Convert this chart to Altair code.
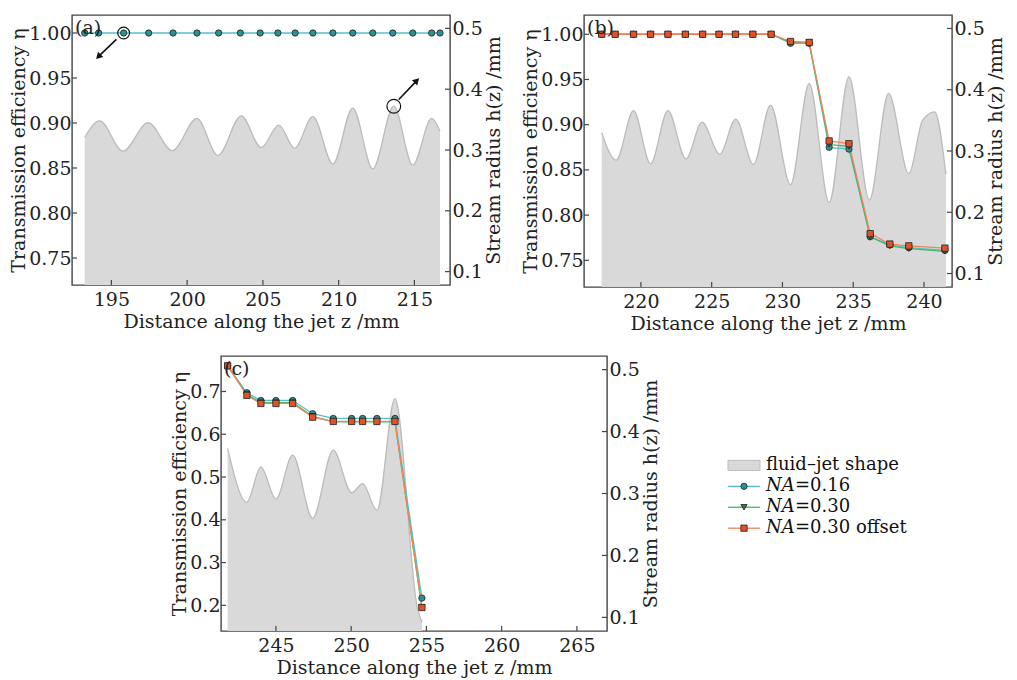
import altair as alt
import pandas as pd

FONT = "DejaVu Serif"

SERIES = ["NA=0.16", "NA=0.30", "NA=0.30 offset"]
LINE_COLORS = ["#56c1c9", "#45b865", "#f2845c"]
MARKER_FILLS = ["#2f8f93", "#2f7f3f", "#e0532a"]
SHAPES = ["circle", "triangle-down", "square"]

# ---------------- panel (a) ----------------
A_Z = [193.24, 194.16, 195.81, 197.46, 199.07, 200.65, 202.08, 203.51, 204.82, 205.99,
       207.13, 208.30, 209.62, 210.93, 212.25, 213.57, 214.89, 216.14, 216.69]
A_ETA_016 = [1.0, 1.0, 1.0, 1.0, 1.0, 1.0, 1.0, 1.0, 1.0, 1.0,
             1.0, 1.0, 1.0, 1.0, 1.0, 1.0, 1.0, 1.0, 1.0]
A_JET_Z = [193.24, 194.23, 195.77, 197.42, 199.02, 200.65, 202.03, 203.57, 204.89, 206.05,
           207.09, 208.30, 209.62, 210.93, 212.25, 213.64, 214.89, 216.14, 216.69]
A_JET_H = [0.321, 0.348, 0.298, 0.345, 0.299, 0.352, 0.291, 0.356, 0.304, 0.341,
           0.303, 0.355, 0.277, 0.369, 0.269, 0.372, 0.275, 0.352, 0.331]

# ---------------- panel (b) ----------------
B_Z = [217.23, 218.18, 219.48, 220.68, 221.91, 223.14, 224.36, 225.52, 226.68, 227.91,
       229.20, 230.57, 231.89, 233.30, 234.70, 236.20, 237.59, 238.93, 241.48]
B_ETA_016 = [1.0, 1.0, 1.0, 1.0, 1.0, 1.0, 1.0, 1.0, 1.0, 1.0,
             1.0, 0.990, 0.990, 0.875, 0.873, 0.776, 0.767, 0.764, 0.761]
B_ETA_030 = [1.0, 1.0, 1.0, 1.0, 1.0, 1.0, 1.0, 1.0, 1.0, 1.0,
             1.0, 0.991, 0.991, 0.878, 0.876, 0.776, 0.766, 0.763, 0.760]
B_ETA_030_OFF = [1.0, 1.0, 1.0, 1.0, 1.0, 1.0, 1.0, 1.0, 1.0, 1.0,
                 1.0, 0.992, 0.991, 0.882, 0.879, 0.7795, 0.768, 0.766, 0.7635]
B_JET_Z = [217.23, 218.25, 219.48, 220.68, 221.91, 223.18, 224.32, 225.57, 226.70, 227.95,
           229.16, 230.57, 231.89, 233.30, 234.70, 236.14, 237.50, 238.93, 239.90, 240.75, 241.55]
B_JET_H = [0.330, 0.285, 0.366, 0.279, 0.366, 0.287, 0.347, 0.295, 0.352, 0.278,
           0.375, 0.245, 0.410, 0.216, 0.421, 0.220, 0.394, 0.263, 0.350, 0.364, 0.262]

# ---------------- panel (c) ----------------
C_Z = [241.79, 243.07, 244.00, 245.00, 246.11, 247.44, 248.81, 250.03, 250.76, 251.71, 252.91, 254.70]
C_ETA_016 = [0.760, 0.697, 0.679, 0.679, 0.679, 0.648, 0.637, 0.637, 0.637, 0.637, 0.637, 0.217]
C_ETA_030 = [0.760, 0.693, 0.674, 0.674, 0.674, 0.642, 0.629, 0.629, 0.629, 0.629, 0.629, 0.195]
C_ETA_030_OFF = [0.760, 0.691, 0.672, 0.672, 0.672, 0.640, 0.630, 0.630, 0.630, 0.630, 0.630, 0.195]
C_JET_Z = [241.79, 243.07, 244.00, 245.00, 246.11, 247.44, 248.81, 250.03, 250.76, 251.71,
           252.91, 254.40, 254.70]
C_JET_H = [0.373, 0.286, 0.343, 0.291, 0.362, 0.260, 0.370, 0.301, 0.316, 0.273,
           0.453, 0.115, 0.092]

# axis ticks
A_XTICKS = [195, 200, 205, 210, 215]
B_XTICKS = [220, 225, 230, 235, 240]
C_XTICKS = [245, 250, 255, 260, 265]
AB_ETA_TICKS = [0.75, 0.80, 0.85, 0.90, 0.95, 1.00]
C_ETA_TICKS = [0.2, 0.3, 0.4, 0.5, 0.6, 0.7]
H_TICKS = [0.1, 0.2, 0.3, 0.4, 0.5]
H_DOMAIN = [0.078, 0.522]

# annotations in (a)
ANN_CIRC_LEFT = {"z": [195.81], "eta": [1.0]}
ANN_CIRC_RIGHT = {"z": [213.64], "h": [0.372]}
ARROWS = {"z": [195.33, 213.97], "eta": [0.993, 0.9261],
          "z2": [194.19, 215.11], "eta2": [0.9746, 0.9463], "ang": [225, 45]}

# legend
LEG_ROW = [0, 1, 2, 3]
LEG_SERIES = ["fluid", "NA=0.16", "NA=0.30", "NA=0.30 offset"]
LEG_ITALIC = ["", "NA", "NA", "NA"]
LEG_REST = ["fluid–jet shape", "=0.16", "=0.30", "=0.30 offset"]

FRAME = "#444444"
JET_FILL = "#d9d9d9"
JET_EDGE = "#bcbcbc"
FS = 19


def long_df(z, cols):
    rows = []
    for name, vals in cols:
        for zi, v in zip(z, vals):
            rows.append({"z": zi, "eta": v, "series": name})
    return pd.DataFrame(rows)


def panel(label, W, H, x_dom, x_ticks, eta_dom, eta_ticks, eta_fmt, jet_z, jet_h, pts,
          left_extra=None, right_extra=None):
    xs = alt.Scale(domain=x_dom, nice=False, zero=False)
    ys_l = alt.Scale(domain=eta_dom, nice=False, zero=False)
    ys_r = alt.Scale(domain=H_DOMAIN, nice=False, zero=False)
    x_axis = alt.Axis(values=x_ticks, format="d", title="Distance along the jet z /mm",
                      labelPadding=5, titlePadding=3)
    r_axis = alt.Axis(orient="right", values=H_TICKS, format=".1f",
                      title="Stream radius h(z) /mm", labelPadding=2, titlePadding=2,
                      titleAngle=270, titleBaseline="top")
    l_axis = alt.Axis(orient="left", values=eta_ticks, format=eta_fmt,
                      title="Transmission efficiency η", labelPadding=1, titlePadding=0)

    def X(f="z"):
        return alt.X(f"{f}:Q", scale=xs, axis=x_axis)

    def YR(f="h"):
        return alt.Y(f"{f}:Q", scale=ys_r, axis=r_axis)

    def YL(f="eta"):
        return alt.Y(f"{f}:Q", scale=ys_l, axis=l_axis)

    jet = pd.DataFrame({"z": jet_z, "h": jet_h})
    area = alt.Chart(jet).mark_area(
        color=JET_FILL, opacity=1, interpolate="monotone", clip=True,
        line={"color": JET_EDGE, "strokeWidth": 1.3}
    ).encode(x=X(), y=YR(), y2=alt.Y2(datum=H_DOMAIN[0]))
    rticks = alt.Chart(pd.DataFrame({"h": H_TICKS})).mark_tick(
        orient="horizontal", size=5, thickness=1.2, color=FRAME, opacity=1
    ).encode(y=YR(), x=alt.value(W - 2.5))
    right_layers = [area, rticks] + (right_extra(YR, X) if right_extra else [])
    right = alt.layer(*right_layers)

    lines = alt.Chart(pts).mark_line(strokeWidth=1.3).encode(
        x=X(), y=YL(),
        color=alt.Color("series:N", scale=alt.Scale(domain=SERIES, range=LINE_COLORS), legend=None),
    )
    points = alt.Chart(pts).mark_point(
        filled=True, size=40, opacity=1, stroke="#222222", strokeWidth=0.8
    ).encode(
        x=X(), y=YL(),
        fill=alt.Fill("series:N", scale=alt.Scale(domain=SERIES, range=MARKER_FILLS), legend=None),
        shape=alt.Shape("series:N", scale=alt.Scale(domain=SERIES, range=SHAPES), legend=None),
    )
    lticks = alt.Chart(pd.DataFrame({"eta": eta_ticks})).mark_tick(
        orient="horizontal", size=5, thickness=1.2, color=FRAME, opacity=1
    ).encode(y=YL(), x=alt.value(2.5))
    xticks = alt.Chart(pd.DataFrame({"z": x_ticks})).mark_tick(
        orient="vertical", size=5, thickness=1.2, color=FRAME, opacity=1
    ).encode(x=X(), y=alt.value(H - 2.5))
    lab = alt.Chart(pd.DataFrame({"t": [label]})).mark_text(
        align="left", baseline="middle", fontSize=FS, color="#222"
    ).encode(x=alt.value(3), y=alt.value(13), text="t:N")
    left_layers = [lines, points, lticks, xticks, lab] + (left_extra(YL, X) if left_extra else [])
    left = alt.layer(*left_layers)

    return alt.layer(right, left).resolve_scale(y="independent").properties(width=W, height=H)


def a_left_extra(YL, X):
    circ = alt.Chart(pd.DataFrame(ANN_CIRC_LEFT)).mark_point(
        shape="circle", filled=False, size=140, color="#111", strokeWidth=1.2, opacity=1
    ).encode(x=X(), y=YL())
    arr = pd.DataFrame(ARROWS)
    rule = alt.Chart(arr).mark_rule(color="#111", strokeWidth=1.6).encode(
        x=X(), x2="z2:Q", y=YL(), y2="eta2:Q")
    head = alt.Chart(arr).mark_point(shape="triangle", filled=True, color="#111", size=55, opacity=1).encode(
        x=X("z2"), y=YL("eta2"), angle=alt.Angle("ang:Q", scale=None))
    return [circ, rule, head]


def a_right_extra(YR, X):
    circ = alt.Chart(pd.DataFrame(ANN_CIRC_RIGHT)).mark_point(
        shape="circle", filled=False, size=190, color="#111", strokeWidth=1.2, opacity=1
    ).encode(x=X(), y=YR())
    return [circ]


pa = panel("(a)", 378, 270, [192.4, 217.35], A_XTICKS, [0.72, 1.02], AB_ETA_TICKS, ".2f",
           A_JET_Z, A_JET_H, long_df(A_Z, [("NA=0.16", A_ETA_016)]),
           left_extra=a_left_extra, right_extra=a_right_extra)
pb = panel("(b)", 368, 272, [215.98, 241.98], B_XTICKS, [0.7205, 1.0213], AB_ETA_TICKS, ".2f",
           B_JET_Z, B_JET_H,
           long_df(B_Z, [("NA=0.16", B_ETA_016), ("NA=0.30", B_ETA_030), ("NA=0.30 offset", B_ETA_030_OFF)]))
pc = panel("(c)", 386, 275, [241.35, 267.0], C_XTICKS, [0.140, 0.783], C_ETA_TICKS, ".1f",
           C_JET_Z, C_JET_H,
           long_df(C_Z, [("NA=0.16", C_ETA_016), ("NA=0.30", C_ETA_030), ("NA=0.30 offset", C_ETA_030_OFF)]))

# spacer
spacer = alt.Chart(pd.DataFrame({"v": [0]})).mark_point(opacity=0).encode(
    x=alt.X("v:Q", axis=None), y=alt.Y("v:Q", axis=None)
).properties(width=78, height=10, view=alt.ViewBackground(stroke=None))

# legend panel
OFF = 47
LFS = 18
leg = pd.DataFrame({"row": LEG_ROW, "series": LEG_SERIES, "it": LEG_ITALIC, "rest": LEG_REST})
ly = alt.Scale(domain=[0, 3], range=[109.4, 172.2])
LY = alt.Y("row:Q", scale=ly, axis=None)
leg_rect = alt.Chart(leg).transform_filter("datum.row == 0").mark_tick(
    orient="horizontal", size=32, thickness=10, color=JET_FILL, stroke=JET_EDGE, strokeWidth=1, opacity=1
).encode(y=LY, x=alt.value(OFF + 16))
leg_lines = alt.Chart(leg).transform_filter("datum.row > 0").mark_rule(strokeWidth=1.3).encode(
    y=LY, x=alt.value(OFF), x2=alt.value(OFF + 32),
    color=alt.Color("series:N", scale=alt.Scale(domain=SERIES, range=LINE_COLORS), legend=None))
leg_pts = alt.Chart(leg).transform_filter("datum.row > 0").mark_point(
    filled=True, size=40, opacity=1, stroke="#222222", strokeWidth=0.8
).encode(
    y=LY, x=alt.value(OFF + 16),
    fill=alt.Fill("series:N", scale=alt.Scale(domain=SERIES, range=MARKER_FILLS), legend=None),
    shape=alt.Shape("series:N", scale=alt.Scale(domain=SERIES, range=SHAPES), legend=None))
leg_it = alt.Chart(leg).transform_filter("datum.row > 0").mark_text(
    align="left", baseline="middle", fontSize=LFS, fontStyle="italic", color="#111"
).encode(y=LY, x=alt.value(OFF + 38), text="it:N")
leg_txt0 = alt.Chart(leg).transform_filter("datum.row == 0").mark_text(
    align="left", baseline="middle", fontSize=LFS, color="#111"
).encode(y=LY, x=alt.value(OFF + 38), text="rest:N")
leg_txt = alt.Chart(leg).transform_filter("datum.row > 0").mark_text(
    align="left", baseline="middle", fontSize=LFS, color="#111"
).encode(y=LY, x=alt.value(OFF + 38 + 29), text="rest:N")
legend = alt.layer(leg_rect, leg_lines, leg_pts, leg_it, leg_txt0, leg_txt).properties(
    width=240, height=275, view=alt.ViewBackground(stroke=None))

top = alt.hconcat(pa, pb, spacing=16)
bottom = alt.hconcat(spacer, pc, legend, spacing=20)

chart = alt.vconcat(top, bottom, spacing=21).properties(
    padding={"left": 0, "top": 6, "right": 0, "bottom": 0}
).configure(font=FONT).configure_axis(
    labelFontSize=FS, titleFontSize=FS, labelColor="#222", titleColor="#222",
    ticks=False, domain=False, grid=False, titleFontWeight="normal", labelFont=FONT, titleFont=FONT
).configure_view(stroke=FRAME, strokeWidth=1.4)

chart.save("out.html", embed_options={"renderer": "svg", "actions": False})
